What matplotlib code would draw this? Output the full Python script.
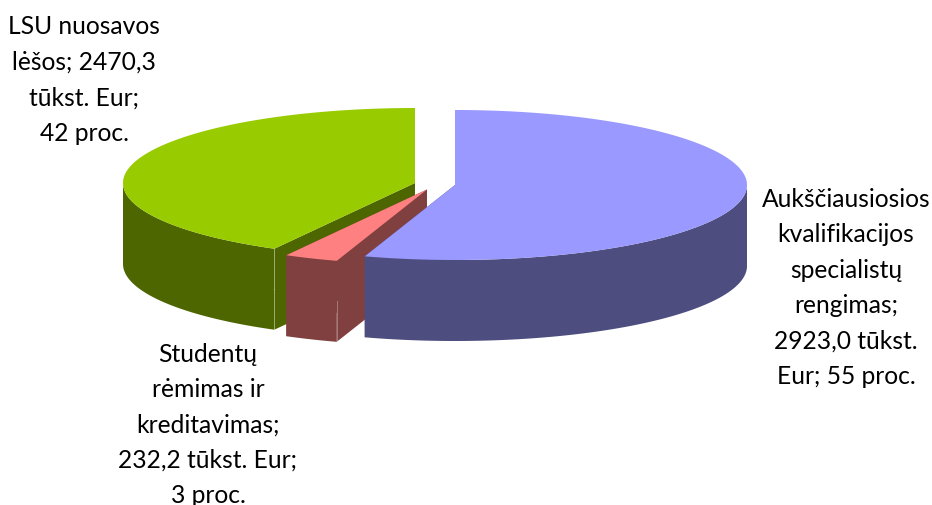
import numpy as np
import matplotlib
matplotlib.use("Agg")
import matplotlib.pyplot as plt
from matplotlib.patches import Polygon

plt.rcParams['font.family'] = ['Lato', 'Noto Sans', 'DejaVu Sans']

# data
names = ["Aukščiausiosios\nkvalifikacijos\nspecialistų\nrengimas;\n2923,0 tūkst.\nEur; 55 proc.",
         "Studentų\nrėmimas ir\nkreditavimas;\n232,2 tūkst. Eur;\n3 proc.",
         "LSU nuosavos\nlėšos; 2470,3\ntūkst. Eur;\n42 proc."]
percents = [55, 3, 42]

# styles, one per slice
top_colors = ["#9999FF", "#FF8080", "#99CC00"]
side_colors = ["#4D4D80", "#804040", "#4D6600"]
centres = [(455, 186), (427, 190.5), (415, 184)]
label_pos = [(846, 288), (208, 425), (84, 80)]

RX = 292
RY = 75
DEPTH = 81


def rim(c, t):
    return c[0] + RX * np.sin(t), c[1] - RY * np.cos(t)


fig = plt.figure(figsize=(9.32, 5.06), dpi=100)
ax = fig.add_axes([0, 0, 1, 1])
ax.set_xlim(0, 932)
ax.set_ylim(506, 0)
ax.axis("off")

edges = np.cumsum([0] + percents) / sum(percents) * 2 * np.pi
slices = []
for i in range(len(percents)):
    slices.append((i, edges[i], edges[i + 1]))

# green first, then red, blue goes on top
for i, t0, t1 in [slices[2], slices[1], slices[0]]:
    c = centres[i]
    t = np.linspace(t0, t1, 300)
    x, y = rim(c, t)

    # inner cut faces
    for te in (t0, t1):
        ex, ey = rim(c, te)
        face = [(c[0], c[1]), (ex, ey), (ex, ey + DEPTH), (c[0], c[1] + DEPTH)]
        ax.add_patch(Polygon(face, fc=side_colors[i], ec="none"))

    # outer wall, only the part facing the viewer
    vis = (t > np.pi / 2) & (t < 3 * np.pi / 2)
    if vis.any():
        xv, yv = x[vis], y[vis]
        wall = np.r_[np.c_[xv, yv], np.c_[xv[::-1], yv[::-1] + DEPTH]]
        ax.add_patch(Polygon(wall, fc=side_colors[i], ec="none"))

    # top
    top = np.r_[[c], np.c_[x, y]]
    ax.add_patch(Polygon(top, fc=top_colors[i], ec="none"))

    # thin light seam on the front corners
    if i > 0:
        ex, ey = rim(c, t0)
        ax.plot([ex, ex], [ey + DEPTH * 0.5, ey + DEPTH], color="white", lw=0.6, alpha=0.35)
        if i == 2:
            ax.plot([ex, ex], [ey, ey + DEPTH * 0.5], color="white", lw=0.6, alpha=0.35)

for i in range(len(names)):
    ax.text(label_pos[i][0], label_pos[i][1], names[i], ha="center", va="center",
            fontsize=17.7, color="black", linespacing=1.65)

fig.savefig("out.png", dpi=100)
